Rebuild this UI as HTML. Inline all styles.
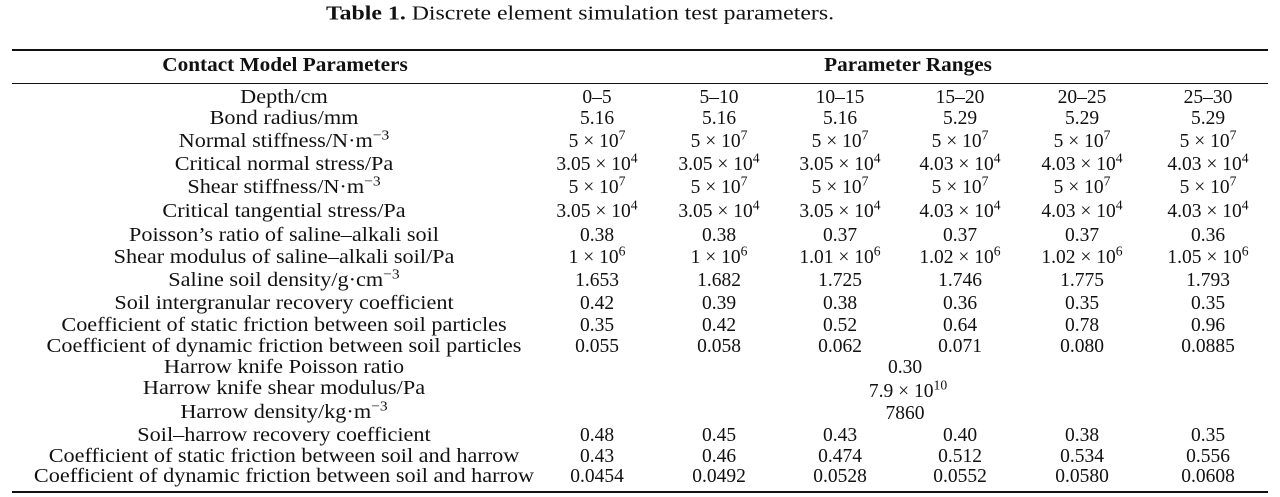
<!DOCTYPE html>
<html><head><meta charset="utf-8"><style>
body{margin:0;width:1280px;height:497px;background:#fff;position:relative;overflow:hidden;font-family:"Liberation Serif",serif;color:#111;}
.t{position:absolute;white-space:nowrap;transform:translate(-50%,-50%);font-size:19.5px;}
.l{transform:translate(-50%,-50%) scaleX(1.14);}
.r{position:absolute;left:12px;width:1256px;background:#111;}
sup{font-size:0.7em;line-height:0;vertical-align:0.55em;}
b{font-weight:bold;}
</style></head><body>
<div class="t" style="left:580px;top:14px;font-size:20px;transform:translate(-50%,-50%) scaleX(1.19)"><b>Table 1.</b> Discrete element simulation test parameters.</div>
<div class="r" style="top:49px;height:2px"></div>
<div class="t" style="left:285px;top:66px;transform:translate(-50%,-50%) scaleX(1.09)"><b>Contact Model Parameters</b></div>
<div class="t" style="left:908px;top:66px;transform:translate(-50%,-50%) scaleX(1.09)"><b>Parameter Ranges</b></div>
<div class="r" style="top:83px;height:1px"></div>
<div class="r" style="top:491px;height:2px"></div>

<div class="t l" style="left:284px;top:98px">Depth/cm</div>
<div class="t" style="left:597px;top:98px">0–5</div><div class="t" style="left:719px;top:98px">5–10</div><div class="t" style="left:840px;top:98px">10–15</div><div class="t" style="left:960px;top:98px">15–20</div><div class="t" style="left:1082px;top:98px">20–25</div><div class="t" style="left:1208px;top:98px">25–30</div>

<div class="t l" style="left:284px;top:119px">Bond radius/mm</div>
<div class="t" style="left:597px;top:119px">5.16</div><div class="t" style="left:719px;top:119px">5.16</div><div class="t" style="left:840px;top:119px">5.16</div><div class="t" style="left:960px;top:119px">5.29</div><div class="t" style="left:1082px;top:119px">5.29</div><div class="t" style="left:1208px;top:119px">5.29</div>

<div class="t l" style="left:284px;top:142px">Normal stiffness/N·m<sup>−3</sup></div>
<div class="t" style="left:597px;top:142px">5 × 10<sup>7</sup></div><div class="t" style="left:719px;top:142px">5 × 10<sup>7</sup></div><div class="t" style="left:840px;top:142px">5 × 10<sup>7</sup></div><div class="t" style="left:960px;top:142px">5 × 10<sup>7</sup></div><div class="t" style="left:1082px;top:142px">5 × 10<sup>7</sup></div><div class="t" style="left:1208px;top:142px">5 × 10<sup>7</sup></div>

<div class="t l" style="left:284px;top:165px">Critical normal stress/Pa</div>
<div class="t" style="left:597px;top:165px">3.05 × 10<sup>4</sup></div><div class="t" style="left:719px;top:165px">3.05 × 10<sup>4</sup></div><div class="t" style="left:840px;top:165px">3.05 × 10<sup>4</sup></div><div class="t" style="left:960px;top:165px">4.03 × 10<sup>4</sup></div><div class="t" style="left:1082px;top:165px">4.03 × 10<sup>4</sup></div><div class="t" style="left:1208px;top:165px">4.03 × 10<sup>4</sup></div>

<div class="t l" style="left:284px;top:188px">Shear stiffness/N·m<sup>−3</sup></div>
<div class="t" style="left:597px;top:188px">5 × 10<sup>7</sup></div><div class="t" style="left:719px;top:188px">5 × 10<sup>7</sup></div><div class="t" style="left:840px;top:188px">5 × 10<sup>7</sup></div><div class="t" style="left:960px;top:188px">5 × 10<sup>7</sup></div><div class="t" style="left:1082px;top:188px">5 × 10<sup>7</sup></div><div class="t" style="left:1208px;top:188px">5 × 10<sup>7</sup></div>

<div class="t l" style="left:284px;top:212px">Critical tangential stress/Pa</div>
<div class="t" style="left:597px;top:212px">3.05 × 10<sup>4</sup></div><div class="t" style="left:719px;top:212px">3.05 × 10<sup>4</sup></div><div class="t" style="left:840px;top:212px">3.05 × 10<sup>4</sup></div><div class="t" style="left:960px;top:212px">4.03 × 10<sup>4</sup></div><div class="t" style="left:1082px;top:212px">4.03 × 10<sup>4</sup></div><div class="t" style="left:1208px;top:212px">4.03 × 10<sup>4</sup></div>

<div class="t l" style="left:284px;top:236px">Poisson’s ratio of saline–alkali soil</div>
<div class="t" style="left:597px;top:236px">0.38</div><div class="t" style="left:719px;top:236px">0.38</div><div class="t" style="left:840px;top:236px">0.37</div><div class="t" style="left:960px;top:236px">0.37</div><div class="t" style="left:1082px;top:236px">0.37</div><div class="t" style="left:1208px;top:236px">0.36</div>

<div class="t l" style="left:284px;top:258px">Shear modulus of saline–alkali soil/Pa</div>
<div class="t" style="left:597px;top:258px">1 × 10<sup>6</sup></div><div class="t" style="left:719px;top:258px">1 × 10<sup>6</sup></div><div class="t" style="left:840px;top:258px">1.01 × 10<sup>6</sup></div><div class="t" style="left:960px;top:258px">1.02 × 10<sup>6</sup></div><div class="t" style="left:1082px;top:258px">1.02 × 10<sup>6</sup></div><div class="t" style="left:1208px;top:258px">1.05 × 10<sup>6</sup></div>

<div class="t l" style="left:284px;top:281px">Saline soil density/g·cm<sup>−3</sup></div>
<div class="t" style="left:597px;top:281px">1.653</div><div class="t" style="left:719px;top:281px">1.682</div><div class="t" style="left:840px;top:281px">1.725</div><div class="t" style="left:960px;top:281px">1.746</div><div class="t" style="left:1082px;top:281px">1.775</div><div class="t" style="left:1208px;top:281px">1.793</div>

<div class="t l" style="left:284px;top:304px">Soil intergranular recovery coefficient</div>
<div class="t" style="left:597px;top:304px">0.42</div><div class="t" style="left:719px;top:304px">0.39</div><div class="t" style="left:840px;top:304px">0.38</div><div class="t" style="left:960px;top:304px">0.36</div><div class="t" style="left:1082px;top:304px">0.35</div><div class="t" style="left:1208px;top:304px">0.35</div>

<div class="t l" style="left:284px;top:326px">Coefficient of static friction between soil particles</div>
<div class="t" style="left:597px;top:326px">0.35</div><div class="t" style="left:719px;top:326px">0.42</div><div class="t" style="left:840px;top:326px">0.52</div><div class="t" style="left:960px;top:326px">0.64</div><div class="t" style="left:1082px;top:326px">0.78</div><div class="t" style="left:1208px;top:326px">0.96</div>

<div class="t l" style="left:284px;top:347px">Coefficient of dynamic friction between soil particles</div>
<div class="t" style="left:597px;top:347px">0.055</div><div class="t" style="left:719px;top:347px">0.058</div><div class="t" style="left:840px;top:347px">0.062</div><div class="t" style="left:960px;top:347px">0.071</div><div class="t" style="left:1082px;top:347px">0.080</div><div class="t" style="left:1208px;top:347px">0.0885</div>

<div class="t l" style="left:284px;top:368px">Harrow knife Poisson ratio</div>
<div class="t" style="left:905px;top:368px">0.30</div>

<div class="t l" style="left:284px;top:389px">Harrow knife shear modulus/Pa</div>
<div class="t" style="left:908px;top:392px">7.9 × 10<sup>10</sup></div>

<div class="t l" style="left:284px;top:413px">Harrow density/kg·m<sup>−3</sup></div>
<div class="t" style="left:905px;top:414px">7860</div>

<div class="t l" style="left:284px;top:436px">Soil–harrow recovery coefficient</div>
<div class="t" style="left:597px;top:436px">0.48</div><div class="t" style="left:719px;top:436px">0.45</div><div class="t" style="left:840px;top:436px">0.43</div><div class="t" style="left:960px;top:436px">0.40</div><div class="t" style="left:1082px;top:436px">0.38</div><div class="t" style="left:1208px;top:436px">0.35</div>

<div class="t l" style="left:284px;top:457px">Coefficient of static friction between soil and harrow</div>
<div class="t" style="left:597px;top:457px">0.43</div><div class="t" style="left:719px;top:457px">0.46</div><div class="t" style="left:840px;top:457px">0.474</div><div class="t" style="left:960px;top:457px">0.512</div><div class="t" style="left:1082px;top:457px">0.534</div><div class="t" style="left:1208px;top:457px">0.556</div>

<div class="t l" style="left:284px;top:477px">Coefficient of dynamic friction between soil and harrow</div>
<div class="t" style="left:597px;top:477px">0.0454</div><div class="t" style="left:719px;top:477px">0.0492</div><div class="t" style="left:840px;top:477px">0.0528</div><div class="t" style="left:960px;top:477px">0.0552</div><div class="t" style="left:1082px;top:477px">0.0580</div><div class="t" style="left:1208px;top:477px">0.0608</div>
</body></html>
